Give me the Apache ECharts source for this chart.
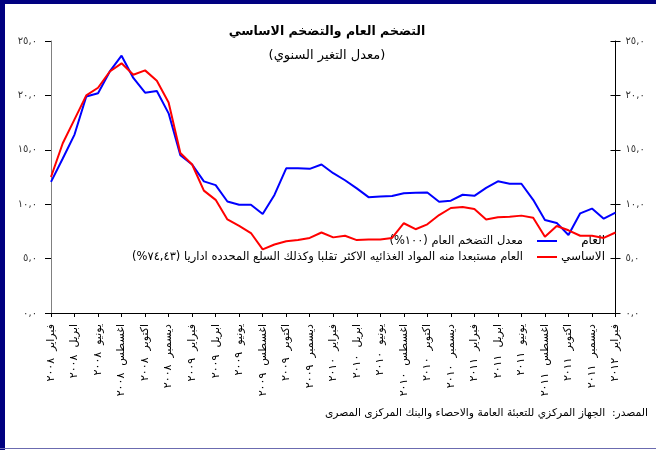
<!DOCTYPE html>
<html>
<head>
<meta charset="utf-8">
<script src="https://cdn.jsdelivr.net/npm/echarts@6/dist/echarts.min.js"></script>
<style>
html, body { margin: 0; padding: 0; background: #fff; }
#chart { width: 656px; height: 450px; }
</style>
</head>
<body>
<div id="chart" dir="rtl"></div>
<script>
// اسماء الشهور
var monthNames = ['يناير', 'فبراير', 'مارس', 'ابريل', 'مايو', 'يونيو', 'يوليو', 'اغسطس', 'سبتمبر', 'اكتوبر', 'نوفمبر', 'ديسمبر'];

// من فبراير ٢٠٠٨ الى فبراير ٢٠١٢ (شهري)
var startYear = 2008;
var startMonth = 1;
var monthCount = 49;

// التضخم العام
var headline = [
  12.05, 14.2, 16.4, 19.9, 20.2, 22.2, 23.65, 21.6, 20.25, 20.4, 18.35, 14.5,
  13.65, 12.1, 11.75, 10.25, 9.95, 9.95, 9.1, 10.85, 13.3, 13.3, 13.25, 13.65,
  12.85, 12.2, 11.45, 10.65, 10.7, 10.75, 11.0, 11.05, 11.07, 10.23, 10.32, 10.87,
  10.77, 11.5, 12.1, 11.88, 11.88, 10.4, 8.55, 8.28, 7.17, 9.16, 9.6, 8.67,
  9.23
];

// التضخم الاساسي
var core = [
  12.5, 15.6, 17.8, 20.0, 20.7, 22.2, 22.95, 21.9, 22.3, 21.35, 19.35, 14.7,
  13.65, 11.25, 10.4, 8.6, 8.0, 7.35, 5.85, 6.3, 6.6, 6.7, 6.9, 7.4,
  6.95, 7.1, 6.7, 6.75, 6.75, 6.9, 8.25, 7.7, 8.15, 9.0, 9.65, 9.75,
  9.55, 8.6, 8.8, 8.85, 8.95, 8.75, 7.0, 8.0, 7.6, 7.1, 7.1, 6.9,
  7.4
];

var yTicks = { min: 0, max: 25, step: 5 };

function toArabic(s) {
  return String(s).replace(/[0-9]/g, function (d) {
    return String.fromCharCode(0x0660 + Number(d));
  });
}

var categories = [];
for (var i = 0; i < monthCount; i++) {
  var m = (startMonth + i) % 12;
  var y = startYear + Math.floor((startMonth + i) / 12);
  categories.push(monthNames[m] + '  ' + toArabic(y));
}

var arFont = '"DejaVu Sans", sans-serif';

function yLabel(v) {
  return toArabic(v.toFixed(1)).replace('.', ',');
}

var myChart = echarts.init(document.getElementById('chart'));

var option = {
  backgroundColor: '#fff',
  animation: false,
  grid: { left: 51, right: 40.5, top: 41, bottom: 137 },
  xAxis: {
    type: 'category',
    data: categories,
    boundaryGap: false,
    axisLine: { lineStyle: { color: '#000', width: 1 } },
    axisTick: { interval: 1, length: 4, lineStyle: { color: '#000' } },
    axisLabel: {
      interval: 1,
      rotate: 90,
      margin: 11,
      color: '#000',
      fontSize: 11,
      fontFamily: arFont
    },
    splitLine: { show: false }
  },
  yAxis: [{
    type: 'value',
    position: 'left',
    min: yTicks.min,
    max: yTicks.max,
    interval: yTicks.step,
    axisLine: { show: true, lineStyle: { color: '#808080' } },
    axisTick: { show: true, length: 6, lineStyle: { color: '#000' } },
    axisLabel: { margin: 14, color: '#333', fontSize: 10, fontFamily: arFont, formatter: yLabel },
    splitLine: { show: false }
  }, {
    type: 'value',
    position: 'right',
    min: yTicks.min,
    max: yTicks.max,
    interval: yTicks.step,
    axisLine: { show: true, lineStyle: { color: '#000' } },
    axisTick: { show: true, length: 5, lineStyle: { color: '#000' } },
    axisLabel: { margin: 10, color: '#333', fontSize: 10, fontFamily: arFont, formatter: yLabel },
    splitLine: { show: false }
  }, {
    // علامات داخلية للمحور الايمن
    type: 'value',
    position: 'right',
    min: yTicks.min,
    max: yTicks.max,
    interval: yTicks.step,
    axisLine: { show: false },
    axisTick: { show: true, inside: true, length: 5, lineStyle: { color: '#000' } },
    axisLabel: { show: false },
    splitLine: { show: false }
  }],
  series: [{
    name: 'العام',
    type: 'line',
    data: headline,
    symbol: 'none',
    lineStyle: { color: '#0000ff', width: 2 },
    itemStyle: { color: '#0000ff' }
  }, {
    name: 'الاساسي',
    type: 'line',
    data: core,
    symbol: 'none',
    lineStyle: { color: '#ff0000', width: 2 },
    itemStyle: { color: '#ff0000' }
  }],
  graphic: [
    // الاطار
    { type: 'rect', shape: { x: 0, y: 0, width: 656, height: 4 }, style: { fill: '#000080' } },
    { type: 'rect', shape: { x: 0, y: 0, width: 5, height: 450 }, style: { fill: '#000080' } },
    { type: 'rect', shape: { x: 0, y: 448, width: 656, height: 1 }, style: { fill: '#6b6bb0' } },
    // العنوان
    { type: 'text', style: { text: 'التضخم العام والتضخم الاساسي', x: 327, y: 32, align: 'center', verticalAlign: 'middle', font: 'bold 12.5px ' + arFont, fill: '#000' } },
    { type: 'text', style: { text: '(معدل التغير السنوي)', x: 327, y: 56, align: 'center', verticalAlign: 'middle', font: '13px ' + arFont, fill: '#000' } },
    // وسيلة الايضاح
    { type: 'line', shape: { x1: 537, y1: 241, x2: 557, y2: 241 }, style: { stroke: '#0000ff', lineWidth: 2 } },
    { type: 'line', shape: { x1: 537, y1: 257, x2: 557, y2: 257 }, style: { stroke: '#ff0000', lineWidth: 2 } },
    { type: 'text', style: { text: 'العام', x: 605, y: 241, align: 'right', verticalAlign: 'middle', font: '12px ' + arFont, fill: '#000' } },
    { type: 'text', style: { text: 'الاساسي', x: 605, y: 257, align: 'right', verticalAlign: 'middle', font: '12px ' + arFont, fill: '#000' } },
    { type: 'text', style: { text: 'معدل التضخم العام (١٠٠%)', x: 523, y: 241, align: 'right', verticalAlign: 'middle', font: '11.5px ' + arFont, fill: '#000' } },
    { type: 'text', style: { text: 'العام مستبعدا منه المواد الغذائيه الاكثر تقلبا وكذلك السلع المحدده اداريا (٧٤,٤٣%)', x: 523, y: 257, align: 'right', verticalAlign: 'middle', font: '11.5px ' + arFont, fill: '#000' } },
    // المصدر
    { type: 'text', style: { text: 'المصدر:  الجهاز المركزي للتعبئة العامة والاحصاء والبنك المركزى المصرى', x: 648, y: 413, align: 'right', verticalAlign: 'middle', font: '10.7px ' + arFont, fill: '#000' } }
  ]
};

myChart.setOption(option);
window.addEventListener('resize', function () {
  myChart.resize();
});
</script>
</body>
</html>
